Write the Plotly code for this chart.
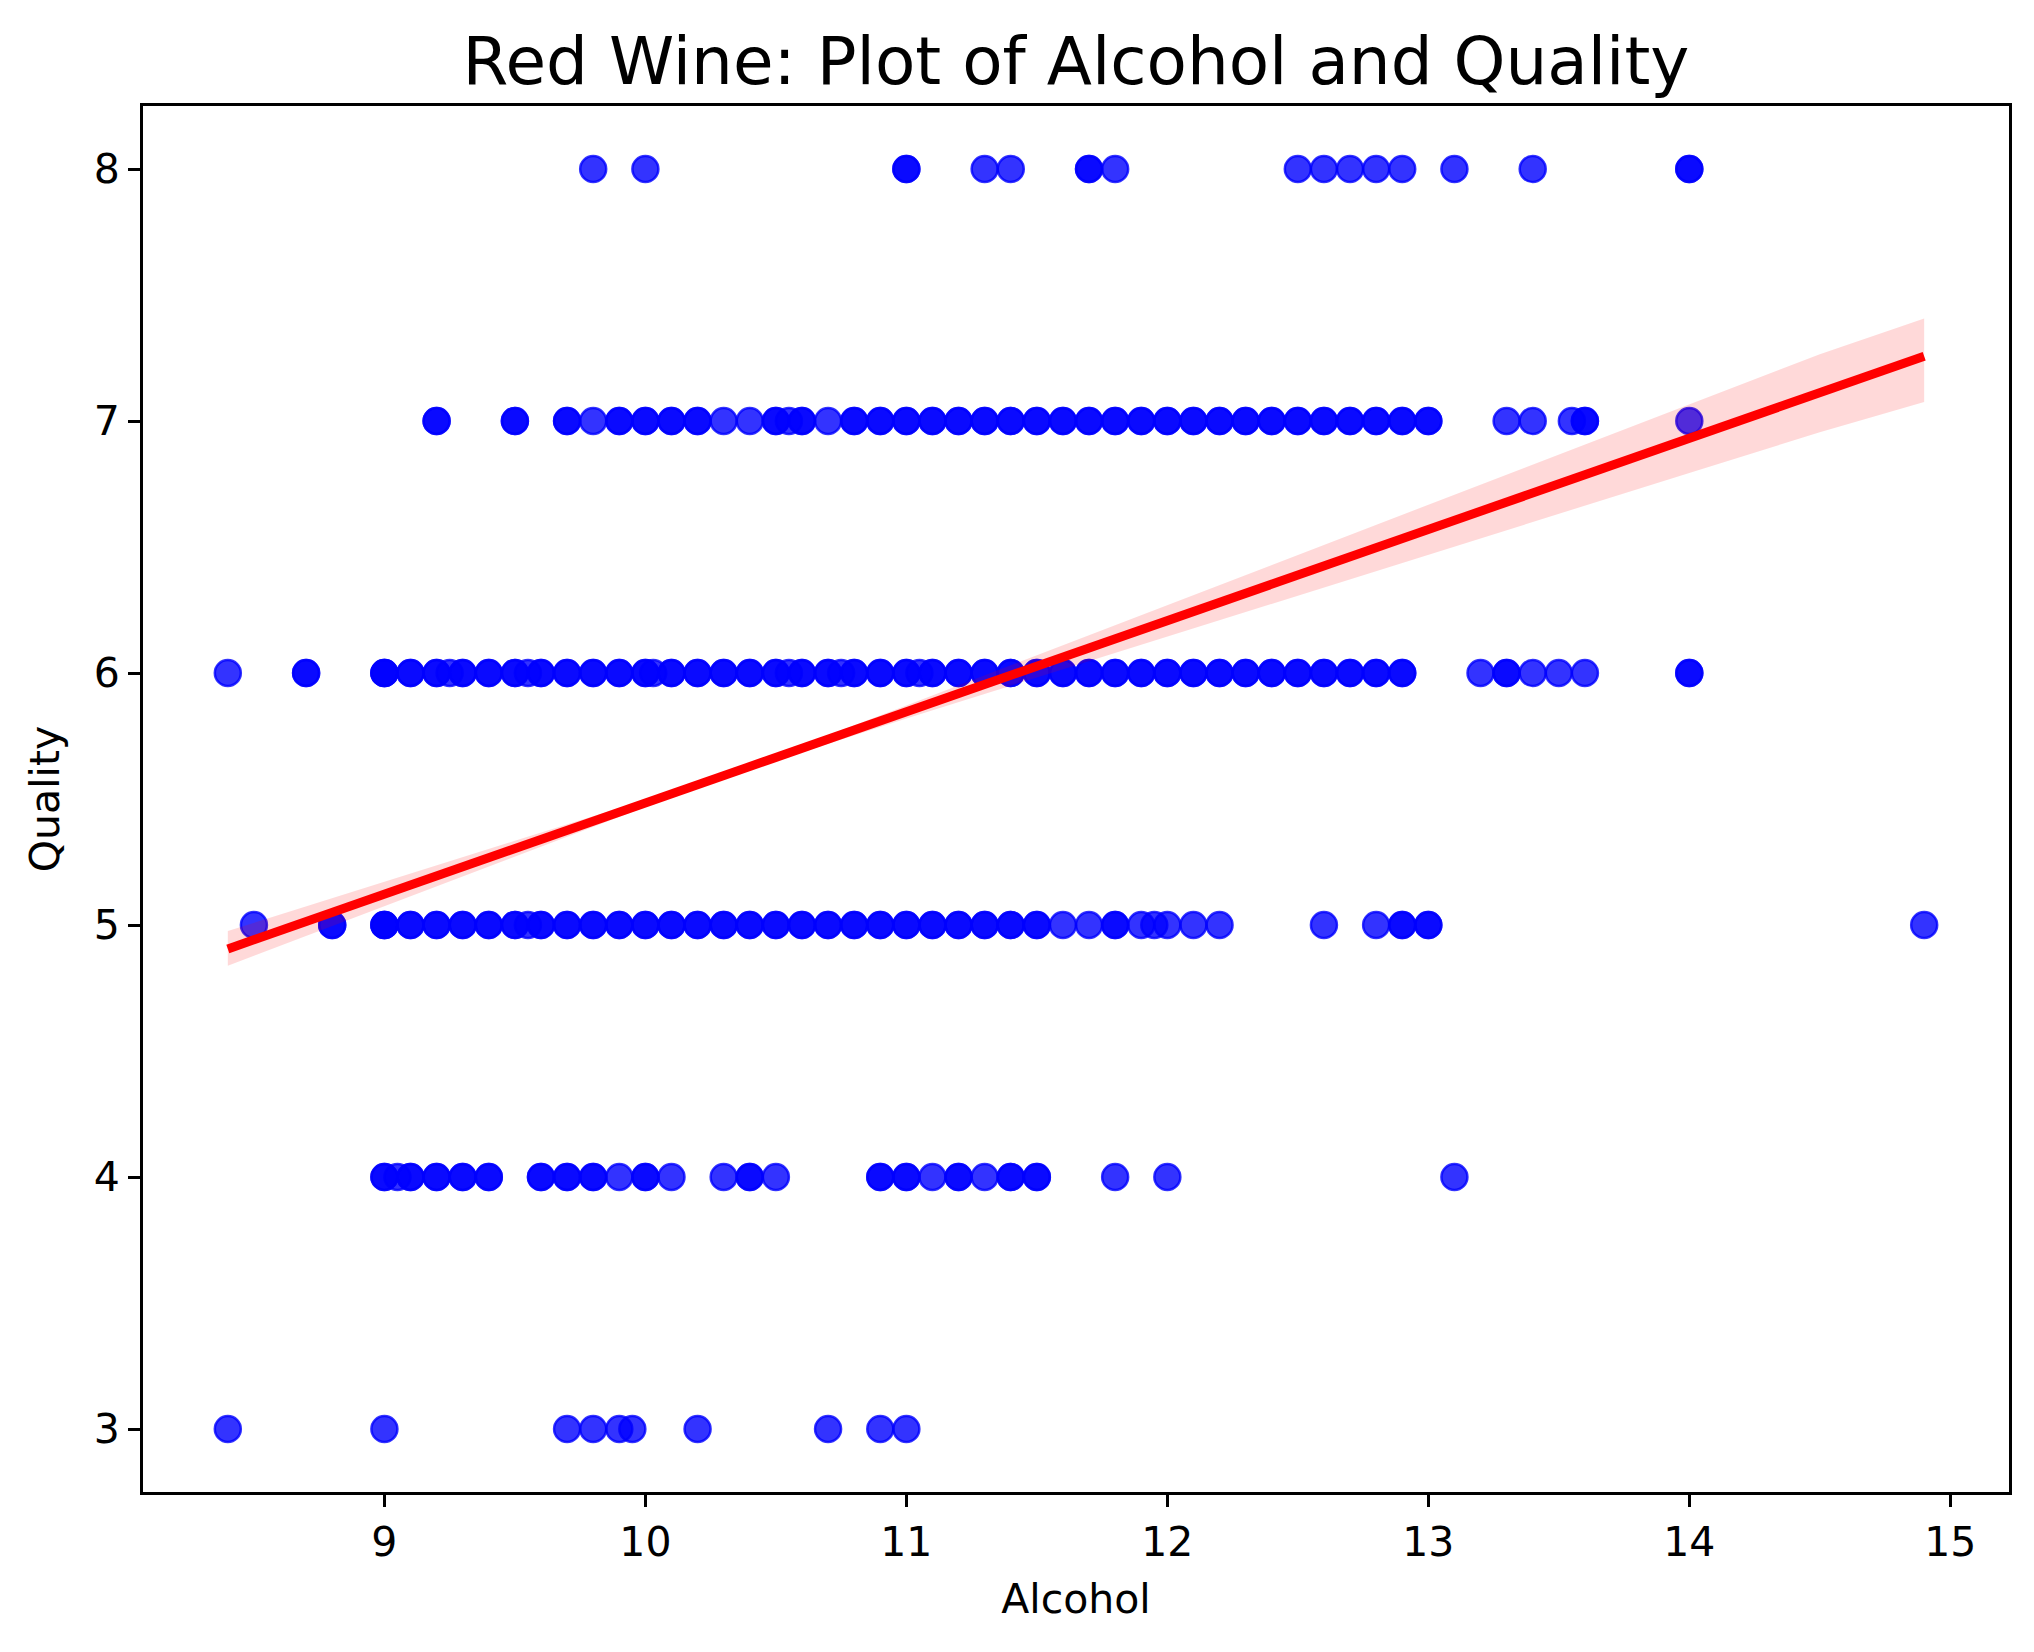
import plotly.graph_objects as go

# points, grouped by quality level
# (values repeated where the dots look darker = several wines on one spot)
alcohol_q8 = [9.8, 10.0, 11.0, 11.0, 11.3, 11.4, 11.7, 11.7, 11.8, 12.5, 12.6, 12.7,
              12.8, 12.9, 13.1, 13.4, 14.0, 14.0]
alcohol_q7 = [9.2, 9.2, 9.5, 9.5, 9.7, 9.7, 9.8, 9.9, 9.9, 10.0, 10.0, 10.1, 10.1,
              10.2, 10.2, 10.3, 10.4, 10.5, 10.5, 10.55, 10.6, 10.6, 10.7, 10.8, 10.8,
              10.9, 10.9, 11.0, 11.0, 11.1, 11.1, 11.2, 11.2, 11.3, 11.3, 11.4, 11.4,
              11.5, 11.5, 11.6, 11.6, 11.7, 11.7, 11.8, 11.8, 11.9, 11.9, 12.0, 12.0,
              12.1, 12.1, 12.2, 12.2, 12.3, 12.3, 12.4, 12.4, 12.5, 12.5, 12.6, 12.6,
              12.7, 12.7, 12.8, 12.8, 12.9, 12.9, 13.0, 13.0, 13.3, 13.4, 13.55,
              13.6, 13.6, 14.0]
alcohol_q6 = [8.4, 8.7, 8.7, 9.0, 9.0, 9.0, 9.1, 9.1, 9.2, 9.2, 9.25, 9.3, 9.3, 9.4,
              9.4, 9.5, 9.5, 9.55, 9.6, 9.6, 9.7, 9.7, 9.8, 9.8, 9.9, 9.9, 10.0,
              10.0, 10.03, 10.1, 10.1, 10.2, 10.2, 10.3, 10.3, 10.4, 10.4, 10.5, 10.5,
              10.55, 10.6, 10.6, 10.7, 10.7, 10.75, 10.8, 10.8, 10.9, 10.9, 11.0,
              11.0, 11.05, 11.1, 11.1, 11.2, 11.2, 11.3, 11.3, 11.4, 11.4, 11.5,
              11.5, 11.6, 11.6, 11.7, 11.7, 11.8, 11.8, 11.9, 11.9, 12.0, 12.0, 12.1,
              12.1, 12.2, 12.2, 12.3, 12.3, 12.4, 12.4, 12.5, 12.5, 12.6, 12.6, 12.7,
              12.7, 12.8, 12.8, 12.9, 12.9, 13.2, 13.3, 13.3, 13.4, 13.5, 13.6,
              14.0, 14.0]
alcohol_q5 = [8.5, 8.8, 8.8, 9.0, 9.0, 9.0, 9.1, 9.1, 9.2, 9.2, 9.3, 9.3, 9.4, 9.4,
              9.5, 9.5, 9.55, 9.6, 9.6, 9.7, 9.7, 9.8, 9.8, 9.9, 9.9, 10.0, 10.0,
              10.1, 10.1, 10.2, 10.2, 10.3, 10.3, 10.4, 10.4, 10.5, 10.5, 10.6, 10.6,
              10.7, 10.7, 10.8, 10.8, 10.9, 10.9, 11.0, 11.0, 11.1, 11.1, 11.2, 11.2,
              11.3, 11.3, 11.4, 11.4, 11.5, 11.5, 11.6, 11.7, 11.8, 11.8, 11.9,
              11.95, 12.0, 12.1, 12.2, 12.6, 12.8, 12.9, 12.9, 13.0, 13.0, 14.9]
alcohol_q4 = [9.0, 9.0, 9.05, 9.1, 9.1, 9.2, 9.2, 9.3, 9.3, 9.4, 9.4, 9.6, 9.6, 9.7,
              9.7, 9.8, 9.8, 9.9, 10.0, 10.0, 10.1, 10.3, 10.4, 10.4, 10.5, 10.9,
              10.9, 11.0, 11.0, 11.1, 11.2, 11.2, 11.3, 11.4, 11.4, 11.5, 11.5, 11.8,
              12.0, 13.1]
alcohol_q3 = [8.4, 9.0, 9.7, 9.8, 9.9, 9.95, 10.2, 10.7, 10.9, 11.0]

quality_levels = [8, 7, 6, 5, 4, 3]

# fitted regression line and its confidence band
fit_x = [8.4, 14.9]
fit_y = [4.905, 7.257]
band_x = [8.4, 9.0, 9.5, 10.0, 10.5, 11.0, 11.5, 12.0, 12.5, 13.0, 13.5, 14.0, 14.5, 14.9]
band_lo = [4.838, 5.075, 5.272, 5.468, 5.652, 5.819, 5.982, 6.145, 6.307, 6.470, 6.632,
           6.794, 6.955, 7.075]
band_hi = [4.976, 5.170, 5.334, 5.497, 5.675, 5.871, 6.070, 6.267, 6.466, 6.665, 6.864,
           7.064, 7.265, 7.407]

x_pts = []
y_pts = []
for q, xs in zip(quality_levels, [alcohol_q8, alcohol_q7, alcohol_q6,
                                  alcohol_q5, alcohol_q4, alcohol_q3]):
    x_pts += xs
    y_pts += [q] * len(xs)

font = "DejaVu Sans, Liberation Sans, sans-serif"

fig = go.Figure()

fig.add_trace(go.Scatter(
    x=x_pts, y=y_pts, mode="markers",
    marker=dict(size=26, color="rgba(0,0,255,0.8)",
                line=dict(width=2.5, color="rgba(0,0,255,0.8)")),
    showlegend=False, hoverinfo="x+y"))

fig.add_trace(go.Scatter(x=band_x, y=band_lo, mode="lines",
                         line=dict(width=0), showlegend=False, hoverinfo="skip"))
fig.add_trace(go.Scatter(x=band_x, y=band_hi, mode="lines", fill="tonexty",
                         fillcolor="rgba(255,0,0,0.15)", line=dict(width=0),
                         showlegend=False, hoverinfo="skip"))
fig.add_trace(go.Scatter(x=fit_x, y=fit_y, mode="lines",
                         line=dict(color="red", width=9), showlegend=False))

axis_style = dict(showgrid=False, zeroline=False, showline=True, mirror=True,
                  linecolor="black", linewidth=3, ticks="outside", ticklen=12,
                  tickwidth=2.8, tickcolor="black",
                  tickfont=dict(family=font, size=41, color="black"))

# page body adds an 8px margin, so the figure is a bit smaller than the window
fig.update_layout(
    width=2026, height=1644,
    margin=dict(l=135, r=25, t=98, b=160),
    paper_bgcolor="white", plot_bgcolor="white",
    title=dict(text="Red Wine: Plot of Alcohol and Quality",
               x=0.5, xanchor="center", y=1 - 53 / 1644, yanchor="middle",
               xref="paper", yref="container",
               font=dict(family=font, size=66, color="black")),
    xaxis=dict(range=[8.075, 15.225], tickvals=[9, 10, 11, 12, 13, 14, 15],
               title=dict(text="Alcohol", standoff=20,
                          font=dict(family=font, size=41, color="black")),
               **axis_style),
    yaxis=dict(range=[2.75, 8.25], tickvals=[3, 4, 5, 6, 7, 8],
               title=dict(text="Quality", standoff=22,
                          font=dict(family=font, size=41, color="black")),
               **axis_style),
)

fig.write_html("out.html")
